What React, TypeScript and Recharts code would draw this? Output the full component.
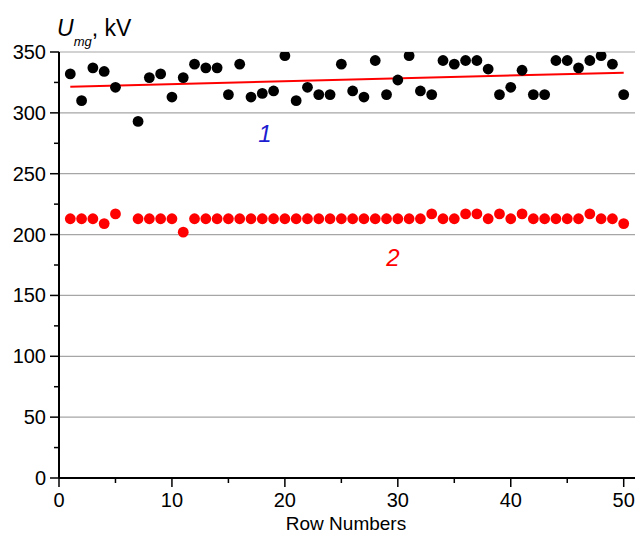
import React from "react";
import {
  ComposedChart,
  Scatter,
  Line,
  XAxis,
  YAxis,
  ReferenceLine,
} from "recharts";

const rowNumbers = [
  1, 2, 3, 4, 5, 7, 8, 9, 10, 11, 12, 13, 14, 15, 16, 17, 18, 19, 20, 21, 22,
  23, 24, 25, 26, 27, 28, 29, 30, 31, 32, 33, 34, 35, 36, 37, 38, 39, 40, 41,
  42, 43, 44, 45, 46, 47, 48, 49, 50,
];

const series1 = [
  332, 310, 337, 334, 321, 293, 329, 332, 313, 329, 340, 337, 337, 315, 340,
  313, 316, 318, 347, 310, 321, 315, 315, 340, 318, 313, 343, 315, 327, 347,
  318, 315, 343, 340, 343, 343, 336, 315, 321, 335, 315, 315, 343, 343, 337,
  343, 347, 340, 315,
];

const series2 = [
  213, 213, 213, 209, 217, 213, 213, 213, 213, 202, 213, 213, 213, 213, 213,
  213, 213, 213, 213, 213, 213, 213, 213, 213, 213, 213, 213, 213, 213, 213,
  213, 217, 213, 213, 217, 217, 213, 217, 213, 217, 213, 213, 213, 213, 213,
  217, 213, 213, 209,
];

const trendX = [1, 50];
const trendY = [321.5, 333];

const xTicks = [0, 5, 10, 15, 20, 25, 30, 35, 40, 45, 50];
const yTicks = [0, 25, 50, 75, 100, 125, 150, 175, 200, 225, 250, 275, 300, 325, 350];
const gridValues = [50, 100, 150, 200, 250, 300, 350];

const data1 = rowNumbers.map((x, i) => ({ x, y: series1[i] }));
const data2 = rowNumbers.map((x, i) => ({ x, y: series2[i] }));
const trendData = trendX.map((x, i) => ({ x, y: trendY[i] }));

const FONT = "'Liberation Sans', Arial, sans-serif";

const XTick = (props: any) => {
  const { x, y, payload } = props;
  const v = payload.value;
  const major = v % 10 === 0;
  return (
    <g>
      <line x1={x} x2={x} y1={y} y2={y + (major ? 9 : 5)} stroke="#000" strokeWidth={1.5} />
      {major && (
        <text x={x} y={y + 29} textAnchor="middle" fontSize={20} fontFamily={FONT} fill="#000">
          {v}
        </text>
      )}
    </g>
  );
};

const YTick = (props: any) => {
  const { x, y, payload } = props;
  const v = payload.value;
  const major = v % 50 === 0;
  return (
    <g>
      <line x1={x - (major ? 9 : 5)} x2={x} y1={y} y2={y} stroke="#000" strokeWidth={1.5} />
      {major && (
        <text x={x - 13} y={y + 7} textAnchor="end" fontSize={20} fontFamily={FONT} fill="#000">
          {v}
        </text>
      )}
    </g>
  );
};

const Dot = (color: string) => (props: any) => (
  <circle cx={props.cx} cy={props.cy} r={5.4} fill={color} />
);

export default function App() {
  return (
    <div style={{ position: "absolute", left: 0, top: 0, width: 635, height: 536, background: "#fff" }}>
      <ComposedChart
        width={635}
        height={536}
        margin={{ top: 52, right: 0, bottom: 8, left: 0 }}
      >
        <XAxis
          type="number"
          dataKey="x"
          domain={[0, 51]}
          ticks={xTicks}
          interval={0}
          height={50}
          tickSize={0}
          tickMargin={0}
          tickLine={false}
          axisLine={{ stroke: "#000", strokeWidth: 2 }}
          tick={<XTick />}
          allowDataOverflow
        />
        <YAxis
          type="number"
          dataKey="y"
          domain={[0, 350]}
          ticks={yTicks}
          interval={0}
          width={59}
          tickSize={0}
          tickMargin={0}
          tickLine={false}
          axisLine={{ stroke: "#000", strokeWidth: 2 }}
          tick={<YTick />}
          allowDataOverflow
        />
        {gridValues.map((v) => (
          <ReferenceLine key={v} y={v} stroke="#a6a6a6" strokeWidth={1.2} />
        ))}
        <Scatter data={data1} dataKey="y" shape={Dot("#000")} isAnimationActive={false} />
        <Scatter data={data2} dataKey="y" shape={Dot("#ff0000")} isAnimationActive={false} />
        <Line
          data={trendData}
          dataKey="y"
          type="linear"
          stroke="#ff0000"
          strokeWidth={2}
          dot={false}
          activeDot={false}
          isAnimationActive={false}
        />
      </ComposedChart>
      <svg
        width={635}
        height={536}
        style={{ position: "absolute", left: 0, top: 0, pointerEvents: "none" }}
      >
        <text x={57} y={36} fontFamily={FONT} fontSize={23} fill="#000">
          <tspan fontStyle="italic">U</tspan>
          <tspan fontStyle="italic" fontSize={13} dy={10}>mg</tspan>
          <tspan dy={-10}>, kV</tspan>
        </text>
        <text x={265} y={142} textAnchor="middle" fontFamily={FONT} fontSize={24} fontStyle="italic" fill="#1c1cd0">
          1
        </text>
        <text x={393} y={266} textAnchor="middle" fontFamily={FONT} fontSize={24} fontStyle="italic" fill="#ff0000">
          2
        </text>
        <text x={346} y={530} textAnchor="middle" fontFamily={FONT} fontSize={19} fill="#000">
          Row Numbers
        </text>
      </svg>
    </div>
  );
}
